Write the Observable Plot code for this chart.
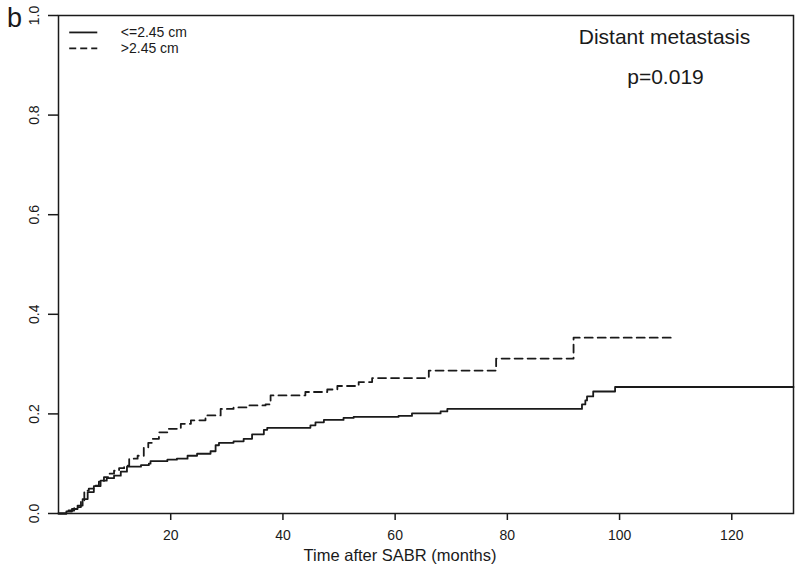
<!DOCTYPE html>
<html>
<head>
<meta charset="utf-8">
<script src="https://cdn.jsdelivr.net/npm/d3@7"></script>
<script src="https://cdn.jsdelivr.net/npm/@observablehq/plot@0.6"></script>
<style>
  html, body { margin: 0; padding: 0; background: #fff; }
  #chart svg { display: block; }
</style>
</head>
<body>
<div id="chart"></div>
<script>
// ---- data ----
const groupSmall = "<=2.45 cm";
const groupLarge = ">2.45 cm";

const smallTime = [0, 1.4, 2.4, 3.4, 4.3, 5.2, 6.3, 7.5, 8.6, 9.9, 11.1, 12.2, 14.7, 16.1, 16.4, 19.4, 21.1, 23.0, 24.7, 27.1, 28.0, 28.6, 31.2, 33.0, 34.5, 36.6, 37.2, 44.9, 45.8, 47.3, 50.8, 52.6, 60.6, 63.0, 68.1, 69.3, 93.3, 93.9, 94.2, 95.3, 99.2, 131];
const smallCum  = [0, 0.004, 0.009, 0.016, 0.029, 0.043, 0.055, 0.066, 0.071, 0.076, 0.084, 0.094, 0.097, 0.100, 0.105, 0.108, 0.110, 0.116, 0.120, 0.125, 0.137, 0.142, 0.145, 0.150, 0.159, 0.168, 0.172, 0.177, 0.183, 0.188, 0.192, 0.194, 0.196, 0.201, 0.205, 0.210, 0.219, 0.227, 0.235, 0.245, 0.254, 0.254];

const largeTime = [0, 1.5, 2.8, 4.0, 4.6, 5.4, 6.3, 7.2, 8.1, 9.0, 9.9, 10.8, 11.7, 12.6, 14.1, 15.2, 16.0, 16.7, 17.9, 19.4, 21.8, 23.6, 26.2, 28.9, 31.2, 33.6, 36.9, 37.8, 44.0, 47.9, 49.7, 53.5, 55.9, 66.0, 78.0, 91.8, 109.9];
const largeCum  = [0, 0.006, 0.013, 0.026, 0.046, 0.050, 0.056, 0.064, 0.073, 0.080, 0.086, 0.091, 0.096, 0.110, 0.116, 0.133, 0.142, 0.150, 0.163, 0.170, 0.180, 0.187, 0.197, 0.210, 0.213, 0.217, 0.219, 0.237, 0.244, 0.249, 0.256, 0.264, 0.272, 0.287, 0.311, 0.353, 0.353];

const xTicks = [20, 40, 60, 80, 100, 120];
const yTicks = [0, 0.2, 0.4, 0.6, 0.8, 1.0];
const xDomain = [0, 131];
const yDomain = [0, 1];

const panelLabel = "b";
const titleText = "Distant metastasis";
const pText = "p=0.019";
const xLabel = "Time after SABR (months)";

// ---- build tables ----
const small = smallTime.map((t, i) => ({time: t, cum: smallCum[i], group: groupSmall}));
const large = largeTime.map((t, i) => ({time: t, cum: largeCum[i], group: groupLarge}));

const legendSolid = [{label: groupSmall, y: 0.966}];
const legendDashed = [{label: groupLarge, y: 0.934}];
const legendLine = {x1: 2.0, x2: 7.0, xText: 11.1};
const dash = "8,5";

const font = "Liberation Sans, Arial, Helvetica, sans-serif";
const ink = "#1a1a1a";

const chart = Plot.plot({
  width: 800,
  height: 572,
  marginLeft: 58,
  marginRight: 7,
  marginTop: 15,
  marginBottom: 59,
  style: {fontFamily: font, background: "#fff", color: ink},
  x: {domain: xDomain, axis: null},
  y: {domain: yDomain, axis: null},
  marks: [
    Plot.frame({stroke: ink, strokeWidth: 1.5}),
    Plot.axisX({ticks: xTicks, tickSize: 7, tickFormat: () => "", label: null, stroke: ink, strokeWidth: 1.5}),
    Plot.axisY({ticks: yTicks, tickSize: 10, tickFormat: () => "", label: null, stroke: ink, strokeWidth: 1.5}),
    Plot.text(xTicks, {x: d => d, frameAnchor: "bottom", dy: 22, text: d => String(d), fontSize: 14, fill: ink, lineAnchor: "middle"}),
    Plot.text(yTicks, {y: d => d, frameAnchor: "left", dx: -24, rotate: -90, text: d => d.toFixed(1), fontSize: 14, fill: ink, textAnchor: "middle", lineAnchor: "middle"}),
    Plot.line(small, {x: "time", y: "cum", curve: "step-after", stroke: ink, strokeWidth: 1.8}),
    Plot.line(large, {x: "time", y: "cum", curve: "step-after", stroke: ink, strokeWidth: 1.8, strokeDasharray: dash}),
    Plot.ruleY(legendSolid, {y: "y", x1: () => legendLine.x1, x2: () => legendLine.x2, stroke: ink, strokeWidth: 1.8}),
    Plot.ruleY(legendDashed, {y: "y", x1: () => legendLine.x1, x2: () => legendLine.x2, stroke: ink, strokeWidth: 1.8, strokeDasharray: "7,4"}),
    Plot.text(legendSolid.concat(legendDashed), {y: "y", x: () => legendLine.xText, text: "label", textAnchor: "start", fontSize: 14, fill: ink, lineAnchor: "middle"}),
    Plot.text([titleText], {frameAnchor: "top-right", dx: -129, dy: 22, text: d => d, textAnchor: "middle", lineAnchor: "middle", fontSize: 21, fill: ink}),
    Plot.text([pText], {frameAnchor: "top-right", dx: -128, dy: 62, text: d => d, textAnchor: "middle", lineAnchor: "middle", fontSize: 21, fill: ink}),
    Plot.text([xLabel], {frameAnchor: "bottom", dx: -26, dy: 42, text: d => d, textAnchor: "middle", lineAnchor: "middle", fontSize: 16.5, fill: ink}),
    Plot.text([panelLabel], {frameAnchor: "top-left", dx: -44, dy: 3, text: d => d, textAnchor: "middle", lineAnchor: "middle", fontSize: 27, fill: ink})
  ]
});

document.getElementById("chart").appendChild(chart);
</script>
</body>
</html>
